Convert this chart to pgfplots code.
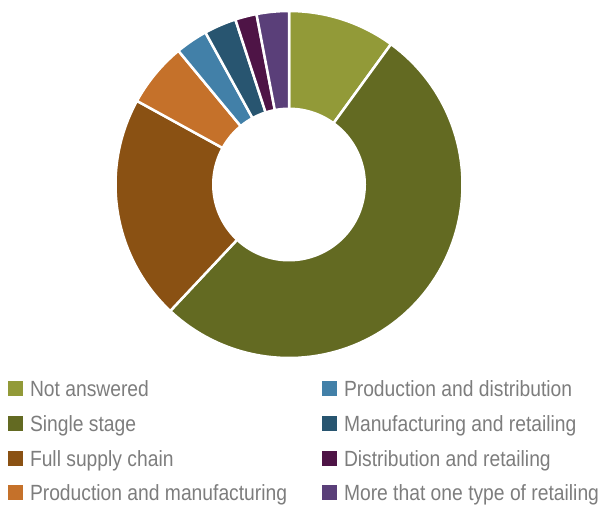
\documentclass[border=0pt]{standalone}
\usepackage{pgfplots}
\pgfplotsset{compat=1.18}
\usepackage{pgfplotstable}
\usepackage{fontspec}
\setmainfont{Liberation Sans}[FakeStretch=0.876]

\definecolor{cNA}{RGB}{146,154,56}
\definecolor{cSS}{RGB}{99,106,34}
\definecolor{cFS}{RGB}{138,81,19}
\definecolor{cPM}{RGB}{197,113,42}
\definecolor{cPD}{RGB}{66,128,168}
\definecolor{cMR}{RGB}{40,85,112}
\definecolor{cDR}{RGB}{78,20,70}
\definecolor{cMO}{RGB}{90,63,121}
\definecolor{textgray}{RGB}{125,125,125}

% share of answers, clockwise from the top
\pgfplotstableread{
label value col
NotAnswered 10 cNA
SingleStage 52 cSS
FullSupply 21 cFS
ProdManuf 6 cPM
ProdDistr 3 cPD
ManufRetail 3 cMR
DistrRetail 2 cDR
MoreRetail 3 cMO
}\piedata

\begin{document}
\begin{tikzpicture}
\begin{axis}[
  x=1pt, y=1pt,
  xmin=-289, xmax=312, ymin=-319.5, ymax=184.5,
  enlargelimits=false,
  hide axis,
  clip=false,
  legend columns=2,
  legend cell align=left,
  legend style={at={(axis cs:-281,-196.2)}, anchor=north west,
    draw=none, fill=none, inner sep=0pt, outer sep=0pt,
    row sep=18.7pt, column sep=0pt,
    font=\fontsize{22}{22}\selectfont, text=textgray,
    nodes={inner sep=0pt, text height=16pt, text depth=0pt},
    /tikz/every odd column/.append style={column sep=7pt}},
  legend image code/.code={\fill[#1, draw=none] (0pt,-7.6pt) rectangle (15pt,7.4pt);},
]
\def\angA{90}
\pgfplotsforeachungrouped \i in {0,...,7}{%
  \pgfplotstablegetelem{\i}{value}\of\piedata
  \let\val\pgfplotsretval
  \pgfplotstablegetelem{\i}{col}\of\piedata
  \let\col\pgfplotsretval
  \pgfmathsetmacro\angB{\angA-3.6*\val}%
  \edef\doslice{\noexpand\addplot[fill=\col, draw=white, line width=2.5pt,
    domain=\angB:\angA, samples=90, forget plot]
    ({173.5*cos(x)},{173.5*sin(x)}) -- (axis cs:0,0) -- cycle;}%
  \doslice
  \let\angA\angB
}
% donut hole
\addplot[fill=white, draw=none, domain=0:360, samples=150, forget plot]
  ({77*cos(x)},{77*sin(x)}) -- cycle;

\addlegendimage{fill=cNA}\addlegendentry{\makebox[292pt][l]{Not answered}}
\addlegendimage{fill=cPD}\addlegendentry{Production and distribution}
\addlegendimage{fill=cSS}\addlegendentry{\makebox[292pt][l]{Single stage}}
\addlegendimage{fill=cMR}\addlegendentry{Manufacturing and retailing}
\addlegendimage{fill=cFS}\addlegendentry{\makebox[292pt][l]{Full supply chain}}
\addlegendimage{fill=cDR}\addlegendentry{Distribution and retailing}
\addlegendimage{fill=cPM}\addlegendentry{\makebox[292pt][l]{Production and manufacturing}}
\addlegendimage{fill=cMO}\addlegendentry{More that one type of retailing}
\end{axis}
\pgfresetboundingbox
\path[use as bounding box] (current axis.south west) rectangle (current axis.north east);
\end{tikzpicture}
\end{document}
